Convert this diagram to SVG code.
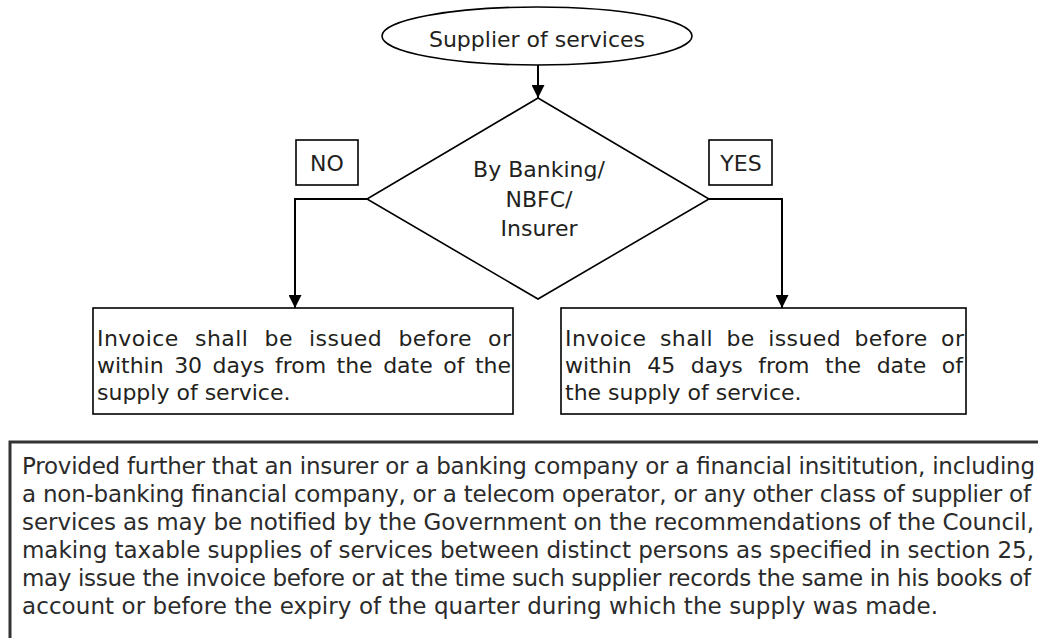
<svg xmlns="http://www.w3.org/2000/svg" width="1038" height="638" viewBox="0 0 1038 638">
  <defs>
    <marker id="arrow" markerWidth="13" markerHeight="13" refX="13" refY="6.5" orient="auto" markerUnits="userSpaceOnUse">
      <path d="M0,0 L13,6.5 L0,13 Z" fill="#000"/>
    </marker>
    <style>
      .shape { fill: #fff; stroke: #000; stroke-width: 1.6; }
      .conn { fill: none; stroke: #000; stroke-width: 2; }
      .t { font-family: "DejaVu Sans", "Liberation Sans", sans-serif; font-size: 22px; fill: #231f20; }
      .c { text-anchor: middle; }
      .note { font-family: "DejaVu Sans", "Liberation Sans", sans-serif; font-size: 23px; fill: #2b2b2b; }
    </style>
  </defs>
  <rect width="1038" height="638" fill="#fff"/>

  <g id="connectors">
    <line class="conn" x1="538" y1="65" x2="538" y2="98" marker-end="url(#arrow)"/>
    <polyline class="conn" points="367,199 295,199 295,308" marker-end="url(#arrow)"/>
    <polyline class="conn" points="709,199 782,199 782,308" marker-end="url(#arrow)"/>
  </g>

  <g id="start">
    <ellipse class="shape" cx="537" cy="36" rx="155" ry="29"/>
    <text class="t c" x="537" y="47">Supplier of services</text>
  </g>

  <g id="decision">
    <polygon class="shape" points="538,98 709,199 538,299 367,199"/>
    <text class="t c" x="539" y="177">By Banking/</text>
    <text class="t c" x="539" y="207">NBFC/</text>
    <text class="t c" x="539" y="236">Insurer</text>
  </g>

  <g id="label-no">
    <rect class="shape" x="296" y="140" width="62" height="45"/>
    <text class="t c" x="327" y="171">NO</text>
  </g>

  <g id="label-yes">
    <rect class="shape" x="709" y="140" width="63" height="45"/>
    <text class="t c" x="741" y="171">YES</text>
  </g>

  <g id="box-no">
    <rect class="shape" x="93" y="308" width="420" height="106"/>
    <text class="t" x="97" y="346" word-spacing="8.7" textLength="414" lengthAdjust="spacing">Invoice shall be issued before or</text>
    <text class="t" x="97" y="373" word-spacing="3.6" textLength="414" lengthAdjust="spacing">within 30 days from the date of the</text>
    <text class="t" x="97" y="400">supply of service.</text>
  </g>

  <g id="box-yes">
    <rect class="shape" x="561" y="308" width="405" height="106"/>
    <text class="t" x="565" y="346" word-spacing="6" textLength="399" lengthAdjust="spacing">Invoice shall be issued before or</text>
    <text class="t" x="565" y="373" word-spacing="8.5" textLength="398" lengthAdjust="spacing">within 45 days from the date of</text>
    <text class="t" x="565" y="400">the supply of service.</text>
  </g>

  <g id="note">
    <rect x="10" y="442" width="1040" height="220" fill="#fff" stroke="#333" stroke-width="3"/>
    <text class="note" x="22" y="474" textLength="1013" lengthAdjust="spacing">Provided further that an insurer or a banking company or a financial insititution, including</text>
    <text class="note" x="22" y="502" textLength="1009" lengthAdjust="spacing">a non-banking financial company, or a telecom operator, or any other class of supplier of</text>
    <text class="note" x="22" y="530" textLength="1012" lengthAdjust="spacing">services as may be notified by the Government on the recommendations of the Council,</text>
    <text class="note" x="22" y="558" textLength="1012" lengthAdjust="spacing">making taxable supplies of services between distinct persons as specified in section 25,</text>
    <text class="note" x="22" y="586" textLength="1009" lengthAdjust="spacing">may issue the invoice before or at the time such supplier records the same in his books of</text>
    <text class="note" x="22" y="614" textLength="916" lengthAdjust="spacing">account or before the expiry of the quarter during which the supply was made.</text>
  </g>
</svg>
